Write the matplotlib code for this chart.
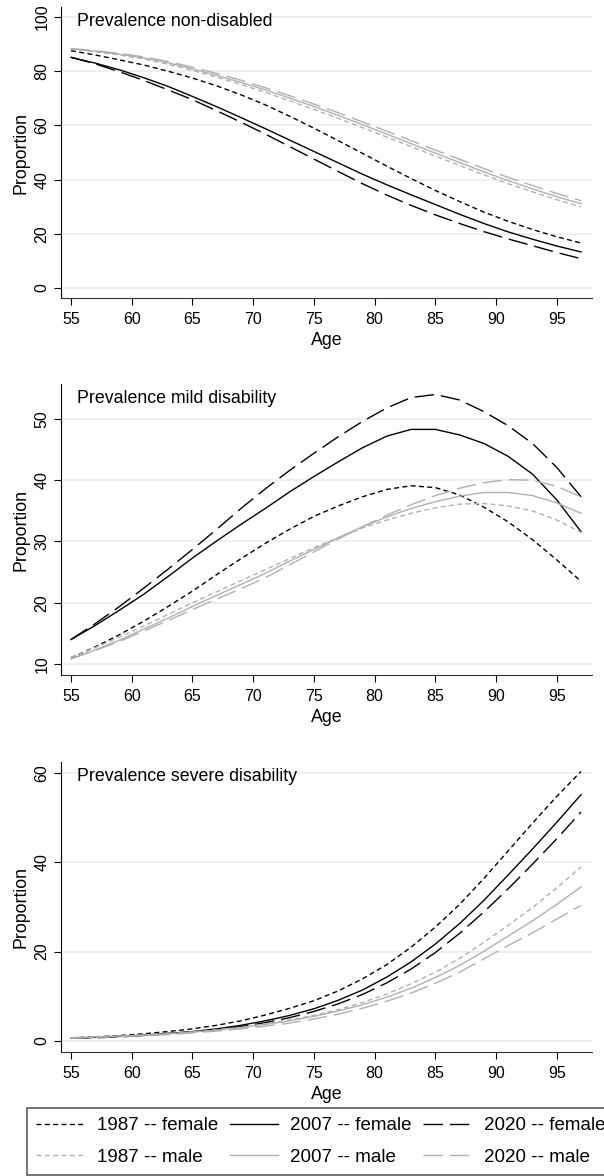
import matplotlib.pyplot as plt

plt.rcParams['font.family'] = ['Liberation Sans', 'DejaVu Sans']

ages = [55, 57, 59, 61, 63, 65, 67, 69, 71, 73, 75, 77, 79, 81, 83, 85, 87, 89, 91, 93, 95, 97]
labels = ['1987 -- female', '2007 -- female', '2020 -- female',
          '1987 -- male', '2007 -- male', '2020 -- male']
titles = ['Prevalence non-disabled', 'Prevalence mild disability',
          'Prevalence severe disability']

# prevalence non-disabled (%)
nondis_f1987 = [87.6, 86.0, 84.2, 82.3, 80.0, 77.5, 74.6, 71.3, 67.6, 63.4, 59.0, 54.4, 49.7, 45.0, 40.4, 36.0, 31.9, 28.0, 24.6, 21.6, 18.9, 16.6]
nondis_f2007 = [85.1, 83.0, 80.5, 77.6, 74.4, 70.7, 66.9, 62.9, 58.8, 54.6, 50.4, 46.2, 42.0, 38.1, 34.4, 30.8, 27.2, 23.8, 20.7, 18.0, 15.5, 13.3]
nondis_f2020 = [85.2, 82.7, 79.8, 76.6, 73.1, 69.5, 65.4, 61.2, 56.8, 52.2, 47.6, 43.0, 38.5, 34.3, 30.5, 27.0, 23.8, 20.8, 18.1, 15.6, 13.1, 10.8]
nondis_m1987 = [88.2, 87.2, 86.0, 84.5, 82.6, 80.3, 77.8, 75.1, 72.2, 69.1, 65.9, 62.6, 59.2, 55.7, 52.2, 48.7, 45.2, 41.8, 38.5, 35.5, 32.6, 29.9]
nondis_m2007 = [88.3, 87.4, 86.3, 84.9, 83.1, 80.9, 78.5, 75.9, 73.1, 70.1, 67.0, 63.7, 60.3, 56.8, 53.3, 49.8, 46.3, 42.9, 39.6, 36.6, 33.7, 31.1]
nondis_m2020 = [88.4, 87.6, 86.6, 85.3, 83.6, 81.5, 79.2, 76.7, 73.9, 71.0, 67.9, 64.7, 61.3, 57.9, 54.4, 50.9, 47.5, 44.1, 40.8, 37.8, 34.9, 32.2]

# prevalence mild disability (%)
mild_f1987 = [11.0, 12.8, 14.8, 17.0, 19.4, 21.9, 24.6, 27.2, 29.7, 32.0, 34.1, 35.8, 37.3, 38.5, 39.1, 38.8, 37.6, 35.6, 33.2, 30.3, 27.0, 23.5]
mild_f2007 = [14.0, 16.3, 18.8, 21.4, 24.3, 27.3, 30.1, 32.8, 35.4, 38.1, 40.6, 43.0, 45.3, 47.2, 48.3, 48.3, 47.4, 46.0, 43.9, 41.0, 36.8, 31.6]
mild_f2020 = [14.0, 16.6, 19.4, 22.4, 25.5, 28.7, 32.0, 35.4, 38.6, 41.6, 44.4, 47.1, 49.6, 51.8, 53.5, 54.0, 53.1, 51.2, 48.9, 46.0, 42.1, 37.3]
mild_m1987 = [11.1, 12.7, 14.4, 16.2, 18.1, 20.0, 21.8, 23.6, 25.4, 27.2, 29.0, 30.6, 32.2, 33.5, 34.6, 35.5, 36.1, 36.2, 35.8, 35.0, 33.5, 31.5]
mild_m2007 = [10.8, 12.3, 13.9, 15.7, 17.5, 19.4, 21.2, 23.0, 24.8, 26.8, 28.7, 30.6, 32.4, 34.0, 35.4, 36.5, 37.4, 38.0, 38.0, 37.5, 36.3, 34.6]
mild_m2020 = [10.9, 12.2, 13.7, 15.4, 17.1, 18.9, 20.6, 22.3, 24.1, 26.2, 28.3, 30.4, 32.4, 34.3, 36.0, 37.5, 38.7, 39.6, 40.1, 40.0, 39.0, 37.3]

# prevalence severe disability (%)
severe_f1987 = [0.7, 0.9, 1.2, 1.6, 2.1, 2.7, 3.5, 4.5, 5.8, 7.3, 9.0, 11.2, 13.9, 17.1, 21.0, 25.5, 30.6, 36.4, 42.6, 48.8, 54.8, 60.4]
severe_f2007 = [0.6, 0.8, 1.0, 1.3, 1.7, 2.1, 2.7, 3.5, 4.5, 5.7, 7.2, 9.1, 11.4, 14.3, 17.7, 21.7, 26.3, 31.5, 37.2, 43.0, 49.0, 55.2]
severe_f2020 = [0.6, 0.7, 0.9, 1.2, 1.6, 2.0, 2.5, 3.2, 4.1, 5.2, 6.6, 8.3, 10.4, 13.0, 16.1, 19.8, 24.1, 28.9, 34.1, 39.6, 45.3, 51.3]
severe_m1987 = [0.7, 0.8, 1.0, 1.3, 1.6, 2.0, 2.5, 3.0, 3.8, 4.7, 5.7, 7.0, 8.6, 10.5, 12.8, 15.4, 18.5, 22.1, 25.9, 29.9, 34.3, 39.0]
severe_m2007 = [0.7, 0.9, 1.1, 1.3, 1.6, 2.0, 2.4, 3.0, 3.7, 4.5, 5.5, 6.7, 8.1, 9.8, 11.8, 14.2, 16.9, 20.1, 23.5, 26.9, 30.6, 34.5]
severe_m2020 = [0.6, 0.8, 1.0, 1.2, 1.4, 1.8, 2.2, 2.7, 3.3, 4.0, 4.9, 6.0, 7.3, 8.9, 10.7, 12.9, 15.4, 18.4, 21.4, 24.2, 27.3, 30.4]

BLACK = '#000000'
GREY = '#b0b0b0'
SHORT = (3.6, 2.4)
LONG = (14, 5)


def draw_panel(ax, series, title, yticks, ylim):
    styles = [(BLACK, SHORT), (BLACK, None), (BLACK, LONG),
              (GREY, SHORT), (GREY, None), (GREY, LONG)]
    for ys, (col, dash), lab in zip(series, styles, labels):
        line, = ax.plot(ages, ys, color=col, lw=1.0, label=lab)
        if dash is not None:
            line.set_dashes(dash)
    ax.set_xlim(54.15, 97.9)
    ax.set_ylim(*ylim)
    ax.set_xticks(range(55, 100, 5))
    ax.set_yticks(yticks)
    ax.tick_params(axis='y', labelrotation=90, labelsize=11.5, length=5, pad=3)
    ax.tick_params(axis='x', labelsize=11.5, length=5, pad=5)
    for lab in ax.get_yticklabels():
        lab.set_va('center')
    ax.grid(axis='y', color='#ececec', lw=1.2)
    ax.set_axisbelow(True)
    for s in ['top', 'right']:
        ax.spines[s].set_visible(False)
    ax.spines['bottom'].set_color('#333333')
    ax.set_xlabel('Age', fontsize=12.8, labelpad=4)
    ax.set_ylabel('Proportion', fontsize=12.8, labelpad=4)
    ax.text(0.031, 0.95, title, transform=ax.transAxes, fontsize=12.8,
            ha='left', va='center')


fig = plt.figure(figsize=(6.04, 11.76), dpi=100)
ax1 = fig.add_axes([0.1005, 0.7466, 0.8796, 0.2474])
ax2 = fig.add_axes([0.1005, 0.4260, 0.8796, 0.2474])
ax3 = fig.add_axes([0.1005, 0.1054, 0.8796, 0.2466])

draw_panel(ax1, [nondis_f1987, nondis_f2007, nondis_f2020,
                 nondis_m1987, nondis_m2007, nondis_m2020],
           titles[0], range(0, 101, 20), (-3.7, 103.7))
draw_panel(ax2, [mild_f1987, mild_f2007, mild_f2020,
                 mild_m1987, mild_m2007, mild_m2020],
           titles[1], range(10, 51, 10), (8.2, 55.7))
draw_panel(ax3, [severe_f1987, severe_f2007, severe_f2020,
                 severe_m1987, severe_m2007, severe_m2020],
           titles[2], range(0, 61, 20), (-2.5, 62.5))

# legend fills column by column: put females on the first row
handles, labs = ax1.get_legend_handles_labels()
order = [0, 3, 1, 4, 2, 5]
leg = fig.legend([handles[i] for i in order], [labs[i] for i in order],
                 ncol=3, loc='upper left',
                 bbox_to_anchor=(27 / 604, 1 - 1108 / 1176),
                 fontsize=13.5, frameon=True, fancybox=False,
                 handlelength=2.6, handletextpad=0.64, columnspacing=0.6,
                 labelspacing=0.75, borderpad=0.5, borderaxespad=0)
leg.get_frame().set_edgecolor('#333333')
leg.get_frame().set_linewidth(1.2)

fig.savefig('out.png', dpi=100)
